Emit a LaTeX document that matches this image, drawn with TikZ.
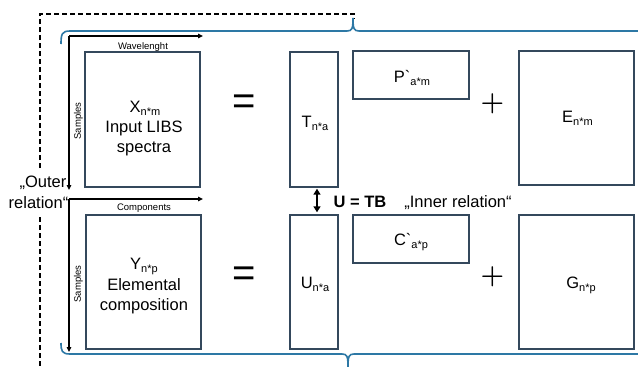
\documentclass[tikz,border=0pt]{standalone}
\usepackage{fontspec}
\setmainfont{Liberation Sans}[Ligatures=TeXOff]
\newfontfamily\lmr{Latin Modern Roman}
\usetikzlibrary{arrows.meta}
\definecolor{boxc}{RGB}{52,72,92}
\definecolor{bracec}{RGB}{45,120,165}
\newcommand{\sbs}[1]{\raisebox{-3pt}{\fontsize{11}{11}\selectfont #1}}
\tikzset{
  mat/.style={draw=boxc, line width=1.4pt, inner sep=0pt},
  txt/.style={font=\fontsize{16.5}{20}\selectfont, inner sep=0pt, anchor=base},
  small/.style={font=\fontsize{9.5}{10}\selectfont, inner sep=0pt},
  axis/.style={line width=1.3pt, -{Triangle[length=5pt,width=4.5pt]}},
  eqs/.style={font=\fontsize{40}{40}\selectfont, inner sep=0pt},
  pls/.style={font=\lmr\bfseries\fontsize{27}{27}\selectfont, inner sep=0pt},
  brace/.style={draw=bracec, line width=1.6pt},
  dsh/.style={line width=1.3pt, dash pattern=on 5pt off 3pt},
  dbl/.style={line width=2pt, {Triangle[length=6pt,width=7pt]}-{Triangle[length=6pt,width=7pt]}}
}
\begin{document}
\begin{tikzpicture}[x=1pt,y=-1pt]
\useasboundingbox (0,0) rectangle (638,367);
% outer dashed relation
\draw[dsh] (40,168) -- (40,14) -- (354,14) -- (354,19);
\draw[dsh] (40,217) -- (40,370);
% braces
\draw[brace] (61,44) .. controls (61,34) and (62,31) .. (70,31) -- (347,31)
  .. controls (352,31) and (353,29) .. (353,18) .. controls (353,29) and (354,31) .. (359,31) -- (640,31);
\draw[brace] (61,343) .. controls (61,351) and (62,354) .. (70,354) -- (342,354)
  .. controls (347,354) and (348,356) .. (348,367) .. controls (348,356) and (349,354) .. (354,354) -- (640,354);
% matrices
\node[mat, minimum width=115pt, minimum height=135pt] (X) at (142.5,119.5) {};
\node[mat, minimum width=115pt, minimum height=134pt] (Y) at (143.5,282) {};
\node[mat, minimum width=48pt, minimum height=135pt] (T) at (314,119.5) {};
\node[mat, minimum width=48pt, minimum height=134pt] (U) at (314,282) {};
\node[mat, minimum width=116pt, minimum height=48pt] (P) at (411,75) {};
\node[mat, minimum width=116pt, minimum height=48pt] (C) at (411,239) {};
\node[mat, minimum width=115pt, minimum height=134pt] (E) at (576.5,118) {};
\node[mat, minimum width=115pt, minimum height=134pt] (G) at (576.5,282) {};
% matrix texts
\node[txt] (x1) at (145,112) {X\sbs{n*m}};
\node[txt] (x2) at (144,132) {Input LIBS};
\node[txt] (x3) at (144,152) {spectra};
\node[txt] (y1) at (144,269) {Y\sbs{n*p}};
\node[txt] (y2) at (144,290) {Elemental};
\node[txt] (y3) at (144,310) {composition};
\node[txt] (tl) at (315,127) {T\sbs{n*a}};
\node[txt] (ul) at (315,288) {U\sbs{n*a}};
\node[txt] (pl) at (412,82) {P`\sbs{a*m}};
\node[txt] (cl) at (411,245) {C`\sbs{a*p}};
\node[txt] (el) at (577.5,122) {E\sbs{n*m}};
\node[txt] (gl) at (581,288) {G\sbs{n*p}};
% operators
\node[eqs] (eq1) at (244,105) {=};
\node[eqs] (eq2) at (244,277) {=};
\node[pls] (pl1) at (492.5,103.5) {+};
\node[pls] (pl2) at (492.5,277) {+};
% axes
\coordinate (o1) at (69,36);
\coordinate (o1r) at (203,36);
\coordinate (o1d) at (69,190);
\coordinate (o2) at (69,199);
\coordinate (o2r) at (203,199);
\coordinate (o2d) at (69,352);
\draw[axis] (o1) -- (o1r);
\draw[axis] (o1) -- (o1d);
\draw[axis] (o2) -- (o2r);
\draw[axis] (o2) -- (o2d);
\node[small, anchor=base] (wl) at (143,49) {Wavelenght};
\node[small, anchor=base] (cp) at (144,210.5) {Components};
\node[small, rotate=90] (s1) at (78.5,121) {Samples};
\node[small, rotate=90] (s2) at (78.5,284) {Samples};
% relations
\node[txt, anchor=base east] (out1) at (66.5,187.5) {„Outer};
\node[txt, anchor=base east] (out2) at (68.5,208) {relation“};
\draw[dbl] ([xshift=3pt,yshift=-1pt]T.south) -- ([xshift=3pt,yshift=2pt]U.north);
\node[txt, font=\bfseries\fontsize{16.5}{20}\selectfont] (utb) at (360,207) {U = TB};
\node[txt] (inner) at (458,207) {„Inner relation“};
\end{tikzpicture}
\end{document}
